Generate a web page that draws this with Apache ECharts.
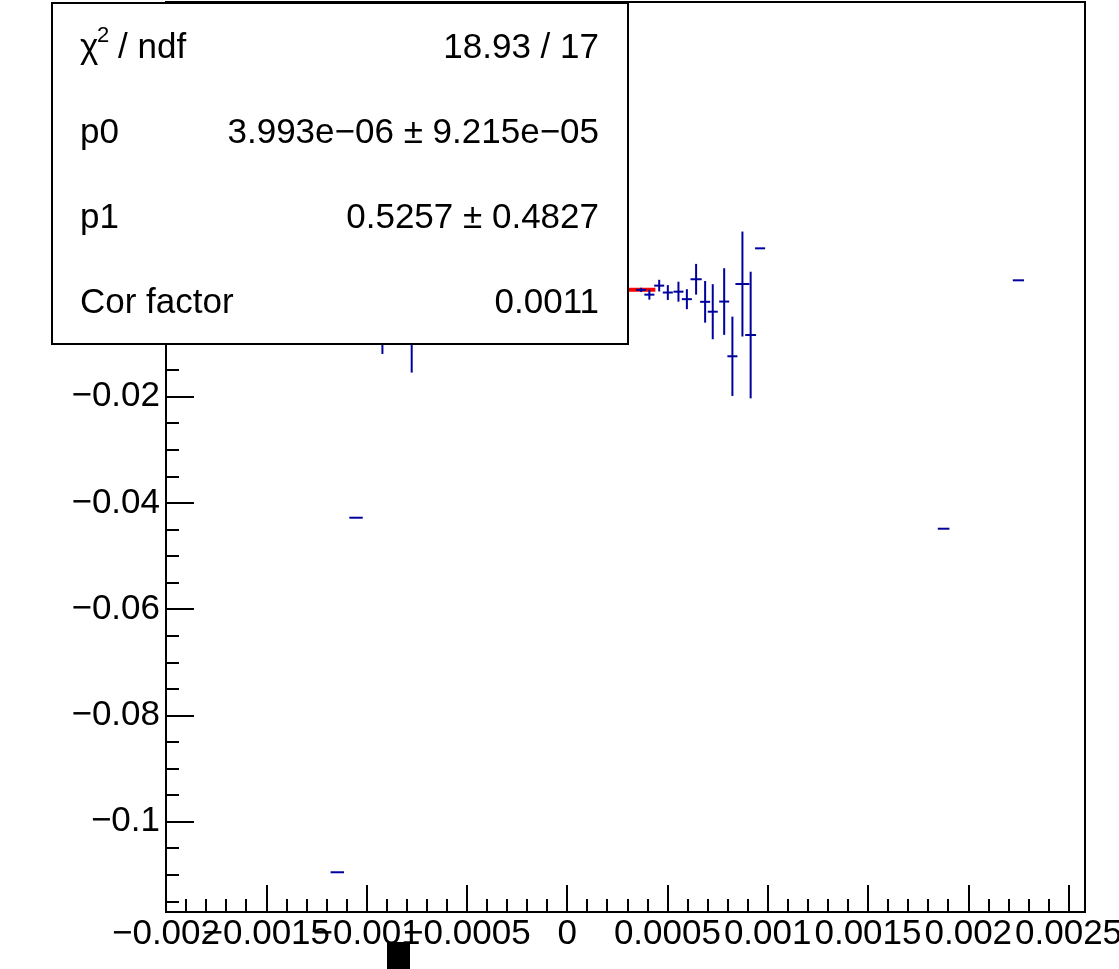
<!DOCTYPE html>
<html>
<head>
<meta charset="utf-8">
<script src="https://cdn.jsdelivr.net/npm/echarts@6/dist/echarts.min.js"></script>
<style>
  html, body { margin: 0; padding: 0; background: #fff; }
  #chart { width: 1119px; height: 969px; }
</style>
</head>
<body>
<div id="chart"></div>
<script>
// ---- data ----
const pointsX    = [-0.001146, -0.0010525, -0.000921, -0.000775, 0.000369, 0.000410, 0.000459, 0.000502, 0.000555, 0.000597, 0.000643, 0.000688, 0.000726, 0.000783, 0.000824, 0.000874, 0.000915, 0.000962, 0.001877, 0.002250];
const pointsY    = [-0.10953, -0.04279, -0.0018, 0.0001, 0.0001, -0.0008, 0.0009, -0.0004, -0.00024, -0.00165, 0.0021, -0.00215, -0.00401, -0.0021, -0.01240, 0.0012, -0.00840, 0.00792, -0.04486, 0.0019];
const pointsXErr = [0.0000334, 0.0000334, 0.000025, 0.000025, 0.000025, 0.000025, 0.000025, 0.000025, 0.000025, 0.000025, 0.000028, 0.000025, 0.000025, 0.000025, 0.000025, 0.000035, 0.000027, 0.000025, 0.000029, 0.000028];
const pointsYErr = [0.0, 0.0, 0.01016, 0.01557, 0.0004, 0.00094, 0.0011, 0.0014, 0.00188, 0.00188, 0.00289, 0.00392, 0.00518, 0.00627, 0.00747, 0.00988, 0.01192, 0.0, 0.0, 0.0];

const fitX = [0.0002, 0.00044];
const fitY = [0.0001, 0.0001];

const xRange = [-0.002, 0.002582];
const yRange = [-0.11701, 0.05429];

const xTickValues = [-0.002, -0.0015, -0.001, -0.0005, 0, 0.0005, 0.001, 0.0015, 0.002, 0.0025];
const xTickLabels = ['\u22120.002', '\u22120.0015', '\u22120.001', '\u22120.0005', '0', '0.0005', '0.001', '0.0015', '0.002', '0.0025'];
const yTickValues = [-0.1, -0.08, -0.06, -0.04, -0.02, 0, 0.02, 0.04];
const yTickLabels = ['\u22120.1', '\u22120.08', '\u22120.06', '\u22120.04', '\u22120.02', '0', '0.02', '0.04'];

const statLabels = ['p0', 'p1', 'Cor factor'];
const statValues = ['18.93 / 17', '3.993e\u221206 \u00b1 9.215e\u221205', '0.5257 \u00b1 0.4827', '0.0011'];

// minor tick positions (axis decoration)
const xMinorValues = [];
for (let i = -19; i <= 25; i++) { if (i % 5 !== 0) xMinorValues.push(i / 10000); }
const yMinorValues = [];
for (let i = -23; i <= 10; i++) { if (i % 4 !== 0) yMinorValues.push(i * 5 / 1000); }

// split the overlapping x labels over two axes so the library keeps all of them
const xTicksA = xTickValues.filter((v, i) => i % 2 === 0);
const xTicksB = xTickValues.filter((v, i) => i % 2 === 1);

const FONT = '"Liberation Sans", Arial, Helvetica, sans-serif';
const BLUE = '#00009c';
const FS = 35;

function lookup(values, labels, v) {
  for (let i = 0; i < values.length; i++) {
    if (Math.abs(values[i] - v) < 1e-9) return labels[i];
  }
  return '';
}

const errData = pointsX.map((x, i) => [x, pointsY[i], pointsXErr[i], pointsYErr[i]]);

function renderErr(params, api) {
  const x = api.value(0), y = api.value(1), xe = api.value(2), ye = api.value(3);
  const l = api.coord([x - xe, y]);
  const r = api.coord([x + xe, y]);
  const t = api.coord([x, y + ye]);
  const b = api.coord([x, y - ye]);
  const style = { stroke: BLUE, lineWidth: 2 };
  const children = [
    { type: 'line', shape: { x1: l[0], y1: l[1], x2: r[0], y2: r[1] }, style: style }
  ];
  if (ye > 0) {
    children.push({ type: 'line', shape: { x1: t[0], y1: t[1], x2: b[0], y2: b[1] }, style: style });
  }
  return { type: 'group', children: children };
}

function baseAxis(extra) {
  return Object.assign({
    type: 'value',
    splitLine: { show: false },
    axisLine: { show: true, onZero: false, lineStyle: { color: '#000', width: 2 } }
  }, extra);
}

function majorXAxis(ticks, showLine) {
  return baseAxis({
    min: xRange[0], max: xRange[1], position: 'bottom',
    axisLine: { show: showLine, onZero: false, lineStyle: { color: '#000', width: 2 } },
    axisTick: { show: true, inside: true, length: 27, customValues: ticks, lineStyle: { color: '#000', width: 2 } },
    axisLabel: { show: true, customValues: ticks, margin: 5, color: '#000', fontSize: FS, fontFamily: FONT,
      showMinLabel: true, showMaxLabel: true, hideOverlap: false,
      formatter: v => lookup(xTickValues, xTickLabels, v) }
  });
}

const graphicEls = [
  { type: 'rect', z: 100, shape: { x: 52, y: 3, width: 576, height: 341 },
    style: { fill: '#fff', stroke: '#000', lineWidth: 2 } },
  { type: 'text', z: 101, style: { x: 80, y: 48, text: '\u03c7', font: FS + 'px ' + FONT, fill: '#000', align: 'left', verticalAlign: 'middle' } },
  { type: 'text', z: 101, style: { x: 97, y: 36, text: '2', font: '22px ' + FONT, fill: '#000', align: 'left', verticalAlign: 'middle' } },
  { type: 'text', z: 101, style: { x: 118, y: 48, text: '/ ndf', font: FS + 'px ' + FONT, fill: '#000', align: 'left', verticalAlign: 'middle' } }
];
const rowY = [48, 133, 218, 303];
statLabels.forEach((s, i) => {
  graphicEls.push({ type: 'text', z: 101, style: { x: 80, y: rowY[i + 1], text: s, font: FS + 'px ' + FONT, fill: '#000', align: 'left', verticalAlign: 'middle' } });
});
statValues.forEach((s, i) => {
  graphicEls.push({ type: 'text', z: 101, style: { x: 599, y: rowY[i], text: s, font: FS + 'px ' + FONT, fill: '#000', align: 'right', verticalAlign: 'middle' } });
});
graphicEls.push({ type: 'rect', z: 101, shape: { x: 387, y: 942, width: 23, height: 27 }, style: { fill: '#000' } });

const option = {
  animation: false,
  backgroundColor: '#fff',
  grid: { left: 166, right: 34, top: 2, bottom: 57, containLabel: false, outerBoundsMode: 'none',
          show: true, borderColor: '#000', borderWidth: 2, backgroundColor: 'transparent' },
  xAxis: [
    majorXAxis(xTicksA, true),
    majorXAxis(xTicksB, false),
    baseAxis({
      min: xRange[0], max: xRange[1], position: 'bottom',
      axisLine: { show: false, onZero: false },
      axisTick: { show: true, inside: true, length: 13, customValues: xMinorValues, lineStyle: { color: '#000', width: 2 } },
      axisLabel: { show: false }
    })
  ],
  yAxis: [
    baseAxis({
      min: yRange[0], max: yRange[1], position: 'left',
      axisTick: { show: true, inside: true, length: 28, customValues: yTickValues, lineStyle: { color: '#000', width: 2 } },
      axisLabel: { show: true, customValues: yTickValues, margin: 6, color: '#000', fontSize: FS, fontFamily: FONT,
        showMinLabel: true, showMaxLabel: true, hideOverlap: false,
        formatter: v => lookup(yTickValues, yTickLabels, v) }
    }),
    baseAxis({
      min: yRange[0], max: yRange[1], position: 'left',
      axisLine: { show: false, onZero: false },
      axisTick: { show: true, inside: true, length: 13, customValues: yMinorValues, lineStyle: { color: '#000', width: 2 } },
      axisLabel: { show: false }
    })
  ],
  series: [
    {
      type: 'line', xAxisIndex: 0, yAxisIndex: 0,
      data: fitX.map((x, i) => [x, fitY[i]]),
      showSymbol: false, symbol: 'none',
      lineStyle: { color: '#ff0000', width: 4 }, z: 3
    },
    {
      type: 'custom', xAxisIndex: 0, yAxisIndex: 0,
      data: errData,
      renderItem: renderErr, z: 4
    }
  ],
  graphic: { elements: graphicEls }
};

const chart = echarts.init(document.getElementById('chart'), null, { renderer: 'canvas' });
chart.setOption(option);
</script>
</body>
</html>
